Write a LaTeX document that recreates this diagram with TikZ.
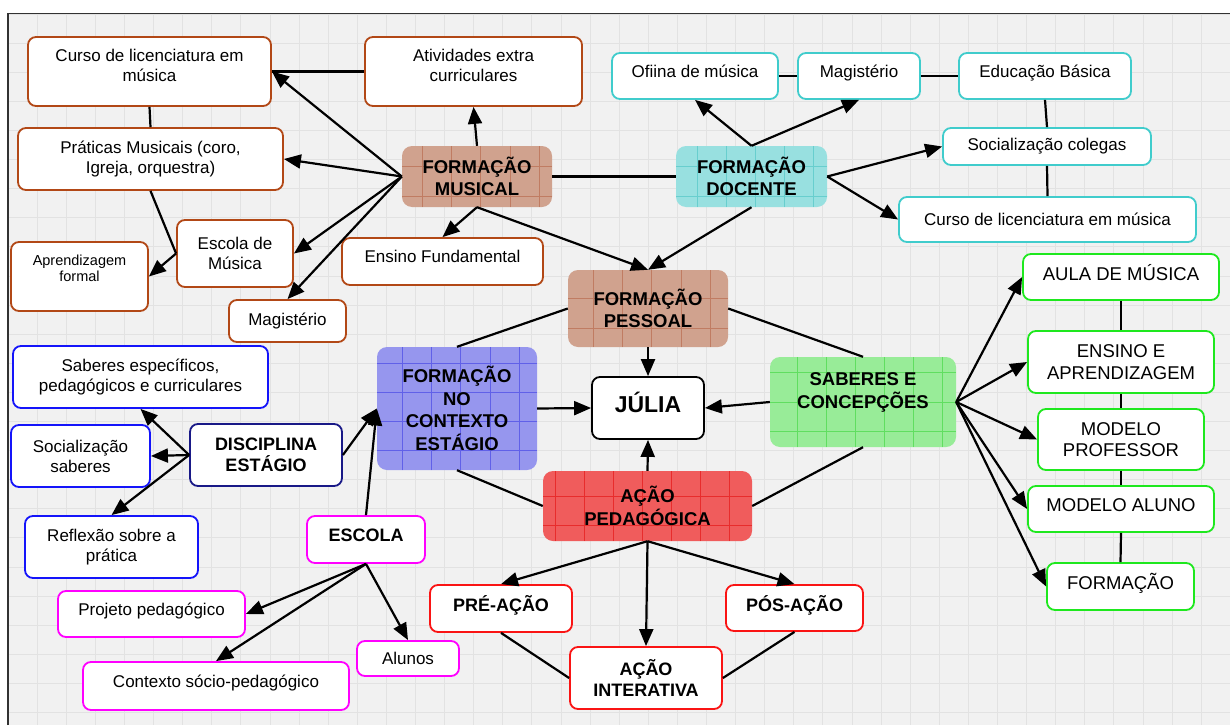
\documentclass[tikz,border=0pt]{standalone}
\usepackage{fontspec}
\setmainfont{Liberation Sans}
\usetikzlibrary{arrows.meta}

\definecolor{paper}{RGB}{241,241,241}
\definecolor{paperline}{RGB}{226,226,226}
\definecolor{framec}{RGB}{50,50,50}
\definecolor{musc}{RGB}{178,72,22}
\definecolor{docc}{RGB}{64,204,204}
\definecolor{sabc}{RGB}{30,232,30}
\definecolor{discc}{RGB}{20,20,250}
\definecolor{navyc}{RGB}{25,25,135}
\definecolor{escc}{RGB}{255,0,255}
\definecolor{acaoc}{RGB}{250,20,20}
\definecolor{musfill}{RGB}{208,162,142}
\definecolor{musgrid}{RGB}{192,124,98}
\definecolor{docfill}{RGB}{152,224,224}
\definecolor{docgrid}{RGB}{104,206,206}
\definecolor{ctxfill}{RGB}{150,150,238}
\definecolor{ctxgrid}{RGB}{96,96,232}
\definecolor{sabfill}{RGB}{152,236,152}
\definecolor{sabgrid}{RGB}{96,222,96}
\definecolor{acaofill}{RGB}{240,92,92}
\definecolor{acaogrid}{RGB}{232,44,44}

\begin{document}
\begin{tikzpicture}[x=1pt,y=-1pt,>={Triangle[length=17pt,width=14pt]},
    boxsize/.style 2 args={minimum width=#1,minimum height=#2},
    box/.style={draw, rounded corners=8pt, fill=white, line width=1.8pt, align=center,
                inner sep=2pt, font=\fontsize{17}{20}\selectfont},
    musbox/.style={box, draw=musc},
    docbox/.style={box, draw=docc},
    sabbox/.style={box, draw=sabc, font=\fontsize{18.5}{21.5}\selectfont},
    discbox/.style={box, draw=discc},
    escbox/.style={box, draw=escc},
    acaobox/.style={box, draw=acaoc, font=\bfseries\fontsize{18}{21.5}\selectfont},
    hub/.style={rounded corners=10pt, fill=#1fill, align=center, inner sep=2pt,
                font=\bfseries\fontsize{18.5}{22.5}\selectfont,
                path picture={\draw[#1grid, line width=.6pt, step=29.1pt]
                  (path picture bounding box.south west) grid (path picture bounding box.north east);}},
    conn/.style={line width=2.2pt}]

  % sheet
  \useasboundingbox (0,0) rectangle (1230,725);
  \fill[paper] (8,14) rectangle (1230,725);
  \begin{scope}[shift={(8,14)}]
    \draw[paperline, line width=.7pt, step=29.1pt] (0,0) grid (1222,711);
  \end{scope}
  \draw[framec, line width=1.5pt] (8,725) -- (8,13.5) -- (1230,13.5);

  % formacao musical
  \node[hub=mus, boxsize={150}{61}] (fm) at (477,176.5) {FORMAÇÃO\\MUSICAL};
  \node[musbox, boxsize={243}{69}] (cursoM) at (149.5,71.5) {Curso de licenciatura em\\música\\[-8pt]\mbox{}};
  \node[musbox, boxsize={217}{69}] (ativ) at (473.5,71.5) {Atividades extra\\curriculares\\[-8pt]\mbox{}};
  \node[musbox, boxsize={265}{62}] (prat) at (150.5,159) {Práticas Musicais (coro,\\Igreja, orquestra)};
  \node[musbox, boxsize={116}{67}] (escM) at (235,253.5) {Escola de\\Música};
  \node[musbox, boxsize={137}{69}, font=\fontsize{14.5}{16}\selectfont] (aprend) at (79.5,276.5)
       {Aprendizagem\\formal\\\mbox{}};
  \node[musbox, boxsize={117}{42}] (magM) at (287.5,321) {Magistério};
  \node[musbox, boxsize={201}{47}] (ensF) at (442.5,261.5) {Ensino Fundamental\\[-10pt]\mbox{}};

  % formacao docente
  \node[hub=doc, boxsize={151}{61}] (fd) at (751.5,176.5) {FORMAÇÃO\\DOCENTE};
  \node[docbox, boxsize={166}{46}] (ofic) at (695,76) {Ofiina de música\\[-10pt]\mbox{}};
  \node[docbox, boxsize={122}{46}] (magD) at (859,76) {Magistério\\[-10pt]\mbox{}};
  \node[docbox, boxsize={172}{46}] (educ) at (1045,76) {Educação Básica\\[-10pt]\mbox{}};
  \node[docbox, boxsize={208}{37}] (socC) at (1047,146.5) {Socialização colegas};
  \node[docbox, boxsize={297}{45}] (cursoD) at (1047.5,219.5) {Curso de licenciatura em música};

  % centro
  \node[hub=mus, boxsize={160}{77}] (fp) at (648,308.5) {FORMAÇÃO\\PESSOAL};
  \node[box, draw=black, boxsize={112}{62}, font=\bfseries\fontsize{23}{26}\selectfont] (julia) at (648,408) {JÚLIA\\[-14pt]\mbox{}};
  \node[hub=ctx, boxsize={160}{123}] (fnce) at (457,408.5) {FORMAÇÃO\\NO\\CONTEXTO\\ESTÁGIO};
  \node[hub=sab, boxsize={186}{90}] (sab) at (863,402) {SABERES E\\CONCEPÇÕES\\\mbox{}};
  \node[hub=acao, boxsize={209}{70}] (acao) at (647.5,506) {AÇÃO\\PEDAGÓGICA};

  % saberes
  \node[sabbox, boxsize={196}{46}] (aula) at (1121,277) {AULA DE MÚSICA\\[-12pt]\mbox{}};
  \node[sabbox, boxsize={186}{62}] (ensA) at (1121,362) {ENSINO E\\APRENDIZAGEM};
  \node[sabbox, boxsize={166}{61}] (modP) at (1121,439.5) {MODELO\\PROFESSOR};
  \node[sabbox, boxsize={186}{46}] (modA) at (1121,509) {MODELO ALUNO\\[-14pt]\mbox{}};
  \node[sabbox, boxsize={147}{47}] (form) at (1120.5,586.5) {FORMAÇÃO\\[-12pt]\mbox{}};

  % estagio
  \node[discbox, boxsize={255}{62}] (sabE) at (140.5,377) {Saberes específicos,\\pedagógicos e curriculares};
  \node[discbox, boxsize={139}{62}] (socS) at (80.5,456) {Socialização\\saberes};
  \node[discbox, boxsize={173}{62}] (refl) at (111.5,547) {Reflexão sobre a\\prática};
  \node[box, draw=navyc, boxsize={152}{62}, font=\bfseries\fontsize{18}{21.5}\selectfont] (disc) at (266,455) {DISCIPLINA\\ESTÁGIO};

  % escola
  \node[escbox, boxsize={118}{47}, font=\bfseries\fontsize{18}{21.5}\selectfont] (escola) at (366,539.5) {ESCOLA\\[-12pt]\mbox{}};
  \node[escbox, boxsize={187}{46}] (proj) at (151.5,614) {Projeto pedagógico\\[-10pt]\mbox{}};
  \node[escbox, boxsize={266}{48}] (ctx) at (216,686) {Contexto sócio-pedagógico\\[-10pt]\mbox{}};
  \node[escbox, boxsize={102}{35}] (alunos) at (408,658.5) {Alunos};

  % acao
  \node[acaobox, boxsize={142}{47}] (pre) at (501,608.5) {PRÉ-AÇÃO\\[-12pt]\mbox{}};
  \node[acaobox, boxsize={152}{62}] (inter) at (646,678) {AÇÃO\\INTERATIVA};
  \node[acaobox, boxsize={137}{46}] (pos) at (794.5,608) {PÓS-AÇÃO\\[-12pt]\mbox{}};

  \begin{scope}[conn]
    % formacao musical
    \draw[->] (fm.west) -- (cursoM.east);
    \draw[->] (fm.west) -- (prat.east);
    \draw[->] (fm.west) -- (escM.east);
    \draw[->] (fm.west) -- (magM.north);
    \draw[->] (fm.north) -- (ativ.south);
    \draw[->] (fm.south) -- (ensF.north);
    \draw[->] (fm.south) -- (fp.north);
    \draw (fm.east) -- (fd.west);
    \draw (ativ.west) -- (cursoM.east);
    \draw (cursoM.south) -- (prat.north);
    \draw (prat.south) -- (escM.west);
    \draw[->] (escM.west) -- (aprend.east);
    % formacao docente
    \draw[->] (fd.north) -- (ofic.south);
    \draw[->] (fd.north) -- (magD.south);
    \draw[->] (fd.east) -- (socC.west);
    \draw[->] (fd.east) -- (cursoD.west);
    \draw[->] (fd.south) -- (fp.north);
    \draw (ofic.east) -- (magD.west);
    \draw (magD.east) -- (educ.west);
    \draw (educ.south) -- (socC.north);
    \draw (socC.south) -- (cursoD.north);
    % centro
    \draw[->] (fp.south) -- (julia.north);
    \draw (fp.west) -- (fnce.north);
    \draw (fp.east) -- (sab.north);
    \draw[->] (fnce.east) -- (julia.west);
    \draw[->] (sab.west) -- (julia.east);
    \draw[->] (acao.north) -- (julia.south);
    \draw (fnce.south) -- (acao.west);
    \draw (sab.south) -- (acao.east);
    % acao pedagogica
    \draw[->] (acao.south) -- (pre.north);
    \draw[->] (acao.south) -- (inter.north);
    \draw[->] (acao.south) -- (pos.north);
    \draw (pre.south) -- (inter.west);
    \draw (pos.south) -- (inter.east);
    % saberes
    \foreach \t in {aula,ensA,modP,modA,form}
      \draw[->] (sab.east) -- (\t.west);
    \draw (aula.south) -- (ensA.north);
    \draw (ensA.south) -- (modP.north);
    \draw (modP.south) -- (modA.north);
    \draw (modA.south) -- (form.north);
    % estagio
    \draw[->] (disc.west) -- (sabE.south);
    \draw[->] (disc.west) -- (socS.east);
    \draw[->] (disc.west) -- (refl.north);
    \draw[->] (disc.east) -- (fnce.west);
    \draw[->] (escola.north) -- (fnce.west);
    % escola
    \draw[->] (escola.south) -- (proj.east);
    \draw[->] (escola.south) -- (ctx.north);
    \draw[->] (escola.south) -- (alunos.north);
  \end{scope}
\end{tikzpicture}
\end{document}
